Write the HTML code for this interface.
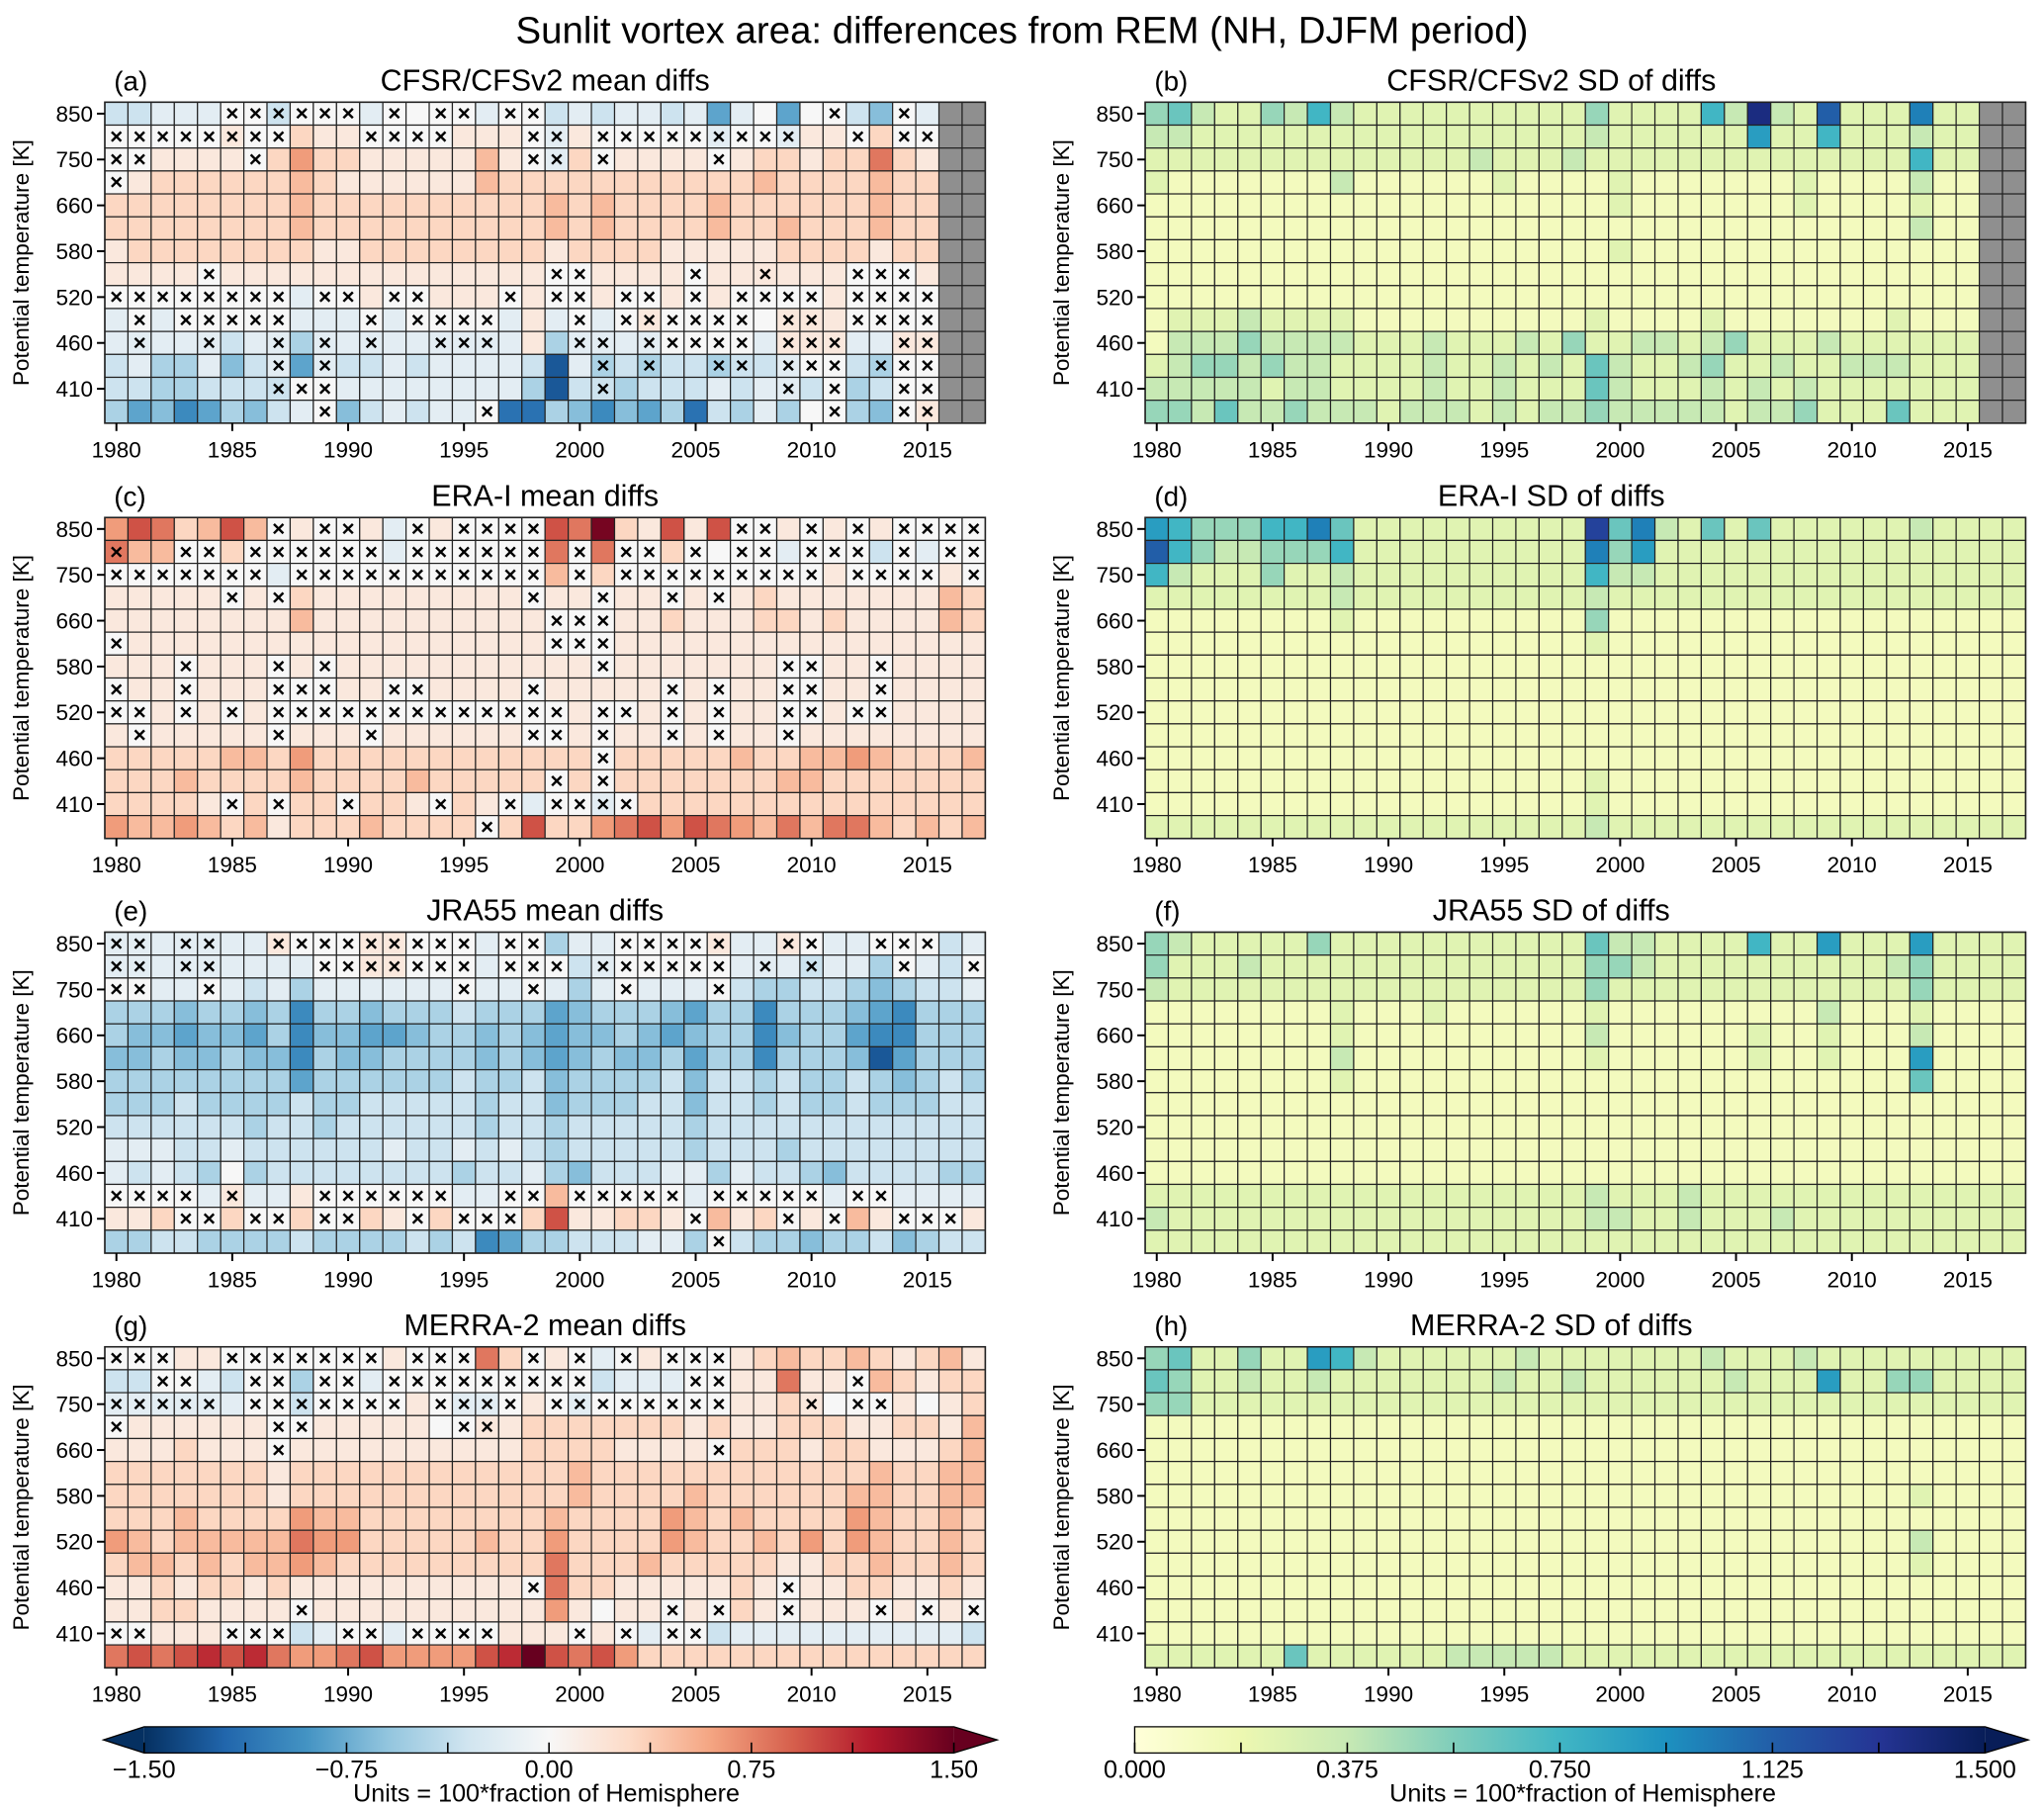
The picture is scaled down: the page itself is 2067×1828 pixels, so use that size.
<!DOCTYPE html>
<html><head><meta charset="utf-8"><title>Sunlit vortex area differences</title>
<style>
html,body{margin:0;padding:0;background:#fff;}
svg{display:block;font-family:"Liberation Sans",Arial,sans-serif;}
</style></head>
<body>
<svg id="fig" xmlns="http://www.w3.org/2000/svg" width="2067" height="1828" viewBox="0 0 1560 1380" preserveAspectRatio="none">
<defs>
<linearGradient id="gRdBu" x1="0" x2="1" y1="0" y2="0">
<stop offset="0" stop-color="#053061"/><stop offset="0.1" stop-color="#2166ac"/><stop offset="0.2" stop-color="#4393c3"/><stop offset="0.3" stop-color="#92c5de"/><stop offset="0.4" stop-color="#d1e5f0"/><stop offset="0.5" stop-color="#f7f7f7"/><stop offset="0.6" stop-color="#fddbc7"/><stop offset="0.7" stop-color="#f4a582"/><stop offset="0.8" stop-color="#d6604d"/><stop offset="0.9" stop-color="#b2182b"/><stop offset="1" stop-color="#67001f"/>
</linearGradient>
<linearGradient id="gYlGnBu" x1="0" x2="1" y1="0" y2="0">
<stop offset="0" stop-color="#ffffd9"/><stop offset="0.125" stop-color="#edf8b1"/><stop offset="0.25" stop-color="#c7e9b4"/><stop offset="0.375" stop-color="#7fcdbb"/><stop offset="0.5" stop-color="#41b6c4"/><stop offset="0.625" stop-color="#1d91c0"/><stop offset="0.75" stop-color="#225ea8"/><stop offset="0.875" stop-color="#253494"/><stop offset="1" stop-color="#081d58"/>
</linearGradient>
</defs>
<text x="780" y="33" text-anchor="middle" font-size="29">Sunlit vortex area: differences from REM (NH, DJFM period)</text>
<g id="plots"></g>
<g>
<rect x="110" y="1318" width="618" height="20" fill="url(#gRdBu)"/>
<polygon points="110,1318 79,1328 110,1338" fill="#053061"/>
<polygon points="728,1318 761,1328 728,1338" fill="#67001f"/>
<polygon points="79,1328 110,1318 728,1318 761,1328 728,1338 110,1338" fill="none" stroke="#000" stroke-width="1"/>
<g id="cbL"></g>
<text x="417" y="1375" text-anchor="middle" font-size="19">Units = 100*fraction of Hemisphere</text>
</g>
<g>
<rect x="866" y="1318" width="649" height="20" fill="url(#gYlGnBu)"/>
<polygon points="1515,1318 1548,1328 1515,1338" fill="#081d58"/>
<polygon points="866,1318 1515,1318 1548,1328 1515,1338 866,1338" fill="none" stroke="#000" stroke-width="1"/>
<g id="cbR"></g>
<text x="1208" y="1375" text-anchor="middle" font-size="19">Units = 100*fraction of Hemisphere</text>
</g>
</svg>
<script>
// ---------- data ----------
const years = [];
for (let y = 1980; y <= 2017; y++) years.push(y);
const levels = ['850','800','750','700','660','620','580','550','520','490','460','435','410','390'];
const yearTicks = [1980,1985,1990,1995,2000,2005,2010,2015];
const levelTicks = ['850','750','660','580','520','460','410'];
const meanTicks = [-1.5,-0.75,0,0.75,1.5];
const meanTickLabels = ['\u22121.50','\u22120.75','0.00','0.75','1.50'];
const sdTicks = [0,0.375,0.75,1.125,1.5];
const sdTickLabels = ['0.000','0.375','0.750','1.125','1.500'];
// mean diffs: letter offset from 'M' (one step = 0.16); Z = missing
const cfsrMean = [
"KKLLLMMKMMMLMMMMLMMKLKLLKLHLMHMMKIMLZZ",
"MMMMMNMMONNMMMMNNNMLNMMMMMLMMLNNMOMMZZ",
"MMNNNNMOQOONNNNNPNMLOMNNNNMNOONOORONZZ",
"MNOOOOOOPONNNNNNPOOOOOOOOOOOPOOOOPOOZZ",
"OOOOOOOOPOOOOOOOOOOPOPOOOOPOOOOOOPOOZZ",
"OOOOOOOOPOOOOOOOOOOPOPOOOOPOOPOOOPOOZZ",
"NOOOOOOOONNOOOOOOOONOOOONNNNNOOOONOOZZ",
"NNNNMNNNNNNNNNNNNNNMMNNNNMNNNNNNMMMNZZ",
"MMMMMMMMLMMNMMNNNMNMMNMMNMNMMMMNMMMMZZ",
"LMLMMMMMLLLMLMMMMLNLMLMNMMMMMNNNMMMMZZ",
"LLLLLKLLJLLLLLLLLLNJLLLLMMMMLNNNLLNNZZ",
"KLJJLIKLHLKKLKLLLLKELJKJKKJKKLMMKJMMZZ",
"KKJJKKKKMMLLLLLLLLJEKKJKKKLKLLKMJKMMZZ",
"JHIGHJIKLMIKLKLLMFFJIGIHJFKJLJMMJIMNZZ"];
const cfsrSig = [
".....xxxxxx.x.xx.xx............x..x...",
"xxxxxxxx...xxxx...xx.xxxxxxxxx..x.xx..",
"xx....x...........xx.x....x...........",
"x.....................................",
"......................................",
"......................................",
"......................................",
"....x..............xx....x..x...xxx...",
"xxxxxxxx.xx.xx...x.xx.xx.x.xxxx.xxxx..",
".x.xxxxx...x.xxxx...x.xxxxxx.xx.xxxx..",
".x..x..x.x.x..xxx...xx.xxxxx.xxx..xx..",
".......x.x...........x.x..xx.xxx.xxx..",
".......xxx...........x.......x.x..xx..",
".........x......x..............x..xx.."];
const eraMean = [
"QSROPSPMNMMNLMNMMMMSRVONSNSMMNMNMNMMMM",
"RPPMMOMMMMMMLMMMMMMRMRMMOMMMMLMMMKMLMM",
"MMMMMMMLMMMMMMMMMMMPMOMMMMMMMMMNMMMMNM",
"NNNNNMNMONNNNNNNNNMNNMNNMNMNONNNNNNNPO",
"NNNNNNNNPNNNNNNNNNNMMMNNONNNOONONNNNPO",
"MNNNNNNNNNNNNNNNNNNMMMNNNNNNNNNNNNNNNN",
"NNNMNNNMNMNNNNNNNNNNNMNNNNNNNMMNNMNNNN",
"MNNMNNNMMMNNMMNNNNMNNNNNMNMNNMMNNMNNNN",
"MMNMNMNMMMMMMMMMMMMMNMMNMNMNNMMNMMNNNN",
"NMNNNNNMNNNMNNNNNNMMNMNNMNMNNMNNNNNNNN",
"OOOOOPPOQOOOOOOOOOOOOMOOOOOPOOPPQPOOOP",
"OOOPOOOOPOOOOPOOOOOMOMOOOOOOOPPOOOOOOO",
"OOOONMOMOOMOONMONMLMMLMOOOOOOOOOOOOOOO",
"QPPQPOPNOOOPOOOOMOSOOQRSQSRQPRPRRPOPOP"];
const eraSig = [
".......x.xx..x.xxxx........xx.x.x.xxxx",
"x..xx.xxxxxx.xxxxxx.x.xx.x.xx.xxx.x.xx",
"xxxxxxx.xxxxxxxxxxx.x.xxxxxxxxx.xxxx.x",
".....x.x..........x..x..x.x...........",
"...................xxx................",
"x..................xxx................",
"...x...x.x...........x.......xx..x....",
"x..x...xxx..xx....x.....x.x..xx..x....",
"xx.x.x.xxxxxxxxxxxxx.xx.x.x..xx.xx....",
".x.....x...x......xx.x..x.x..x........",
".....................x................",
"...................x.x................",
".....x.x..x...x..x.xxxx...............",
"................x....................."];
const jraMean = [
"LLLLLLLNMMMNNMMMLMMJLLMMMMNLLNMLLMMMKL",
"LLLLLLLLLMMNNMMMLMMMKLMMMMMLLLKLLJMLKM",
"MMLLMLKLJLLLLLLMLLMLJLMLLLMKJJKKJIJKKL",
"JJJIJJIJGJJIJJJKJJJHIJJJIHJJGJJJIHGJJJ",
"JIIHIIHJGIIHHIJJIJIHIIJIHIJJGIJJHGGJJJ",
"IIJIIJIIGJIIJJJJIJIHIJIIJHJJGJJJIEHJJJ",
"JJJJJJJJHJJJJJJKJJKIJJJJKIKKJKJJKJIJKJ",
"JJJKJJJJKJJKKKKKJKKIJJJKKIKKJKJJKJJJKK",
"KKKKKKJKKJKKKKKKJKKJKKKKKJKKKKKKKKKKKK",
"LLLKKLKKKKKKLKKLKLKJKKKKKJKKKJKKKKKKKK",
"LKLKJMJKKKKKKKKJKKLJIKKKLLJLKKJIKKKKJJ",
"MMMMLNLLNMMMMMMLLMMPMMMMMLMMMMMLMMLLLL",
"NNOMMOMMOMMONMOMMMOSNNOONMPNOMNMPNMMMN",
"JJKKJJJJKJJJJKJKGHJJKKKLLJMKJJIJJKIJKK"];
const jraSig = [
"xx.xx..xxxxxxxxx.xx...xxxxx..xx..xxx..",
"xx.xx....xxxxxxx.xxx.xxxxxx.x.x...x..x",
"xx..x..........x..x...x...x...........",
"......................................",
"......................................",
"......................................",
"......................................",
"......................................",
"......................................",
"......................................",
"......................................",
"xxxx.x...xxxxxx..xx.xxxxx.xxxxx.xx....",
"...xx.xx.xx..x.xxx.......x...x.x..xxx.",
"..........................x..........."];
const merraMean = [
"MMMNNMMMMMMMNMMMROMNMLMNMMMNOPOOPONOPN",
"KKMMLKMMJMMLMMMMMMMMMKLLLMMNNRNNMPONOO",
"LLLLLLMMKMMMMNMLLMNMLMMMMMMNNONMMMNMNO",
"MNNNNNNMMNNNNNMMNNOOOOOOONONNOOONNOONP",
"NNNONNNMNNNNNNNNNNOOOONNNNMOOONOONNNOP",
"OOOOOOONOOOOOOOOOOOOPOOOOOOOOOOOOPOOPP",
"OOOOOOONOOOOOOOOOOOOPOOOOPOOOOOOPPOOPP",
"OOOPOOOOQPPOOOOOOOOPOOOOQPOPOOOOQPOOPO",
"QPOPPPPPRQQOOOOOPOOQOOOOQPOOPOQOQPOOPO",
"OPPOPOPPQPOOOOOOOOOROOOPOOOOONNOOPOOPO",
"NNONOONONNNNNNNNNNMROONNNNNONMNNOONNON",
"NNOONNNNMNNNNNNNNNNQNMNNMNMONMNNNMNMNM",
"MMNNNMMMKLMMLMMMMNNNMNMLMMKLLLLLLLLLLK",
"RSRSTSTRQQRSQQQQSTYSRSQOOOOOOOOOOOOOOO"];
const merraSig = [
"xxx..xxxxxxx.xxx..x.x.x.xxx...........",
"..xx..xx.xx.xxxxxxxxx....xx.....x.....",
"xxxxx.xxxxxxx.xxxx.xxxxxxxx...x.xx....",
"x......xx......xx.....................",
".......x..................x...........",
"......................................",
"......................................",
"......................................",
"......................................",
"......................................",
"..................x..........x........",
"........x...............x.x..x...x.x.x",
"xx...xxx..xx.xxxx...x.x.xx............",
"......................................"];
// SD of diffs: index into '0123456789abc' (step 0.125); Z = missing
const cfsrSD = [
"4532243632"+"2222222224"+"222263b329"+"222822"+"ZZ",
"3322222222"+"2222222223"+"2222227226"+"222322"+"ZZ",
"2222222222"+"2222322232"+"2222222222"+"222622"+"ZZ",
"2111111131"+"1111121111"+"2111111121"+"111311"+"ZZ",
"1111111111"+"1111111111"+"2111111121"+"111211"+"ZZ",
"1111111111"+"1111111111"+"1111111111"+"111311"+"ZZ",
"1111111111"+"1111111111"+"2111111111"+"111111"+"ZZ",
"1111111111"+"1111111111"+"1111111111"+"111111"+"ZZ",
"1111111111"+"1111111111"+"1111111111"+"111111"+"ZZ",
"1222322221"+"1111111112"+"1111211111"+"112111"+"ZZ",
"1333433332"+"2232223242"+"2332342223"+"222222"+"ZZ",
"2344343322"+"2232232325"+"3223422322"+"333222"+"ZZ",
"3333323322"+"2232232225"+"3222323232"+"222222"+"ZZ",
"4435334333"+"2333232334"+"3333323342"+"225222"+"ZZ"];
const eraSD = [
"7644466852"+"222222222a"+"5832525222"+"22232222",
"9643344462"+"2222222228"+"4722222222"+"22222222",
"6322242232"+"2222222226"+"3322222222"+"22222222",
"2222222232"+"2222222223"+"2222222222"+"22222222",
"1111111121"+"1111111114"+"1111111111"+"11111111",
"1111111111"+"1111111112"+"1111111111"+"11111111",
"1111111111"+"1111111111"+"1111111111"+"11111111",
"1111111111"+"1111111111"+"1111111111"+"11111111",
"1111111111"+"1111111111"+"1111111111"+"11111111",
"1111111111"+"1111111111"+"1111111111"+"11111111",
"1111111111"+"1111111111"+"1111111111"+"11111111",
"1111111111"+"1111111112"+"1111111111"+"11111111",
"1111111111"+"1111111112"+"1111111111"+"11111111",
"2222222222"+"2222222223"+"2222222222"+"22222222"];
const jraSD = [
"4322222422"+"2222222225"+"3322226227"+"22272222",
"4222322222"+"2222222224"+"4322222222"+"22342222",
"3222222222"+"2222222224"+"2222222222"+"22242222",
"1111111121"+"1121111112"+"1111111113"+"11121111",
"1111111121"+"1111111113"+"1111112112"+"11131111",
"1111111131"+"1111111112"+"1111112112"+"11171111",
"1111111121"+"1111111111"+"1111111111"+"11151111",
"1111111111"+"1111111111"+"1111111111"+"11111111",
"1111111111"+"1111111111"+"1111111111"+"11111111",
"1111111111"+"1111111111"+"1111111111"+"11111111",
"1111111111"+"1111111111"+"1111111111"+"11111111",
"2222222222"+"2222222223"+"2223222222"+"22222222",
"3222222222"+"2222222223"+"3223222322"+"22222222",
"2222222222"+"2222222222"+"2222222222"+"22222222"];
const merraSD = [
"4522422763"+"2222223222"+"2222322232"+"22222222",
"5422322322"+"2222232232"+"2222232227"+"22442222",
"4422222222"+"2222222222"+"2222222222"+"22222222",
"1111111111"+"1111111111"+"1111111111"+"11111111",
"1111111111"+"1111111111"+"1111111111"+"11111111",
"1111111111"+"1111111111"+"1111111111"+"11111111",
"1111111111"+"1111111111"+"1111111111"+"11121111",
"1111111111"+"1111111111"+"1111111111"+"11111111",
"1111111111"+"1111111111"+"1111111111"+"11131111",
"1111111111"+"1111111111"+"1111111111"+"11121111",
"1111111111"+"1111111111"+"1111111111"+"11111111",
"1111111111"+"1111111111"+"1111111111"+"11111111",
"1111111111"+"1111111111"+"1111111111"+"11111111",
"2222225222"+"2223333322"+"2222222222"+"22222222"];

// ---------- helpers ----------
const NS = 'http://www.w3.org/2000/svg';
function el(tag, attrs, parent) {
  const e = document.createElementNS(NS, tag);
  for (const k in attrs) e.setAttribute(k, attrs[k]);
  parent.appendChild(e);
  return e;
}
function hex(h){return [parseInt(h.substr(1,2),16),parseInt(h.substr(3,2),16),parseInt(h.substr(5,2),16)];}
const rdbu = ['#053061','#2166ac','#4393c3','#92c5de','#d1e5f0','#f7f7f7','#fddbc7','#f4a582','#d6604d','#b2182b','#67001f'].map(hex);
const ylgnbu = ['#ffffd9','#edf8b1','#c7e9b4','#7fcdbb','#41b6c4','#1d91c0','#225ea8','#253494','#081d58'].map(hex);
function cmap(stops, t) {
  t = Math.max(0, Math.min(1, t));
  const p = t * (stops.length - 1);
  const i = Math.min(Math.floor(p), stops.length - 2);
  const f = p - i;
  const c = [0,1,2].map(k => Math.round(stops[i][k] + (stops[i+1][k] - stops[i][k]) * f));
  return 'rgb(' + c.join(',') + ')';
}
function meanVal(ch){ return ch === 'Z' ? null : (ch.charCodeAt(0) - 77) * 0.16; }
function sdVal(ch){ return ch === 'Z' ? null : '0123456789abc'.indexOf(ch) * 0.125; }

const plots = document.getElementById('plots');
const PW = 672, PH = 245;
const panels = [
  {id:'a', title:'CFSR/CFSv2 mean diffs', x0:80, y0:78, rows:cfsrMean, sig:cfsrSig, kind:'mean'},
  {id:'b', title:'CFSR/CFSv2 SD of diffs', x0:874, y0:78, rows:cfsrSD, kind:'sd'},
  {id:'c', title:'ERA-I mean diffs', x0:80, y0:395, rows:eraMean, sig:eraSig, kind:'mean'},
  {id:'d', title:'ERA-I SD of diffs', x0:874, y0:395, rows:eraSD, kind:'sd'},
  {id:'e', title:'JRA55 mean diffs', x0:80, y0:711.5, rows:jraMean, sig:jraSig, kind:'mean'},
  {id:'f', title:'JRA55 SD of diffs', x0:874, y0:711.5, rows:jraSD, kind:'sd'},
  {id:'g', title:'MERRA-2 mean diffs', x0:80, y0:1028, rows:merraMean, sig:merraSig, kind:'mean'},
  {id:'h', title:'MERRA-2 SD of diffs', x0:874, y0:1028, rows:merraSD, kind:'sd'}
];

panels.forEach(p => {
  const cw = PW / years.length, rh = PH / levels.length;
  const xs = i => p.x0 + i * cw;
  const ys = r => p.y0 + r * rh;
  const g = el('g', {}, plots);
  
  
  for (let r = 0; r < levels.length; r++) {
    const row = p.rows[r];
    for (let i = 0; i < years.length; i++) {
      const ch = row[i] || row[row.length - 1];
      const v = p.kind === 'mean' ? meanVal(ch) : sdVal(ch);
      let fill = '#8f8f8f';
      if (v !== null) fill = p.kind === 'mean' ? cmap(rdbu, (v + 1.5) / 3) : cmap(ylgnbu, v / 1.5);
      const c = el('rect', {x: xs(i), y: ys(r), width: cw, height: rh, fill: fill, stroke: '#222', 'stroke-width': 0.9}, g);
      
      
      if (p.sig && p.sig[r][i] === 'x') {
        const t = el('text', {x: xs(i) + cw / 2, y: ys(r) + rh / 2 + 5.5, 'text-anchor': 'middle', 'font-size': 17, 'font-weight': 'bold', fill: '#000'}, g);
        t.textContent = '\u00d7';
        
        
      }
    }
  }
  const fr = el('rect', {x: p.x0, y: p.y0, width: PW, height: PH, fill: 'none', stroke: '#222', 'stroke-width': 1.2}, g);
  
  
  levelTicks.forEach(lv => {
    const r = levels.indexOf(lv);
    const yy = ys(r) + rh / 2;
    const tk = el('line', {x1: p.x0 - 6, x2: p.x0, y1: yy, y2: yy, stroke: '#000', 'stroke-width': 1.5}, g);
    
    
    const tl = el('text', {x: p.x0 - 9, y: yy + 6, 'text-anchor': 'end', 'font-size': 17}, g);
    tl.textContent = lv;
    
    
  });
  yearTicks.forEach(yr => {
    const i = years.indexOf(yr);
    const xx = xs(i) + cw / 2;
    const tk = el('line', {x1: xx, x2: xx, y1: p.y0 + PH, y2: p.y0 + PH + 6, stroke: '#000', 'stroke-width': 1.5}, g);
    
    
    const tl = el('text', {x: xx, y: p.y0 + PH + 26, 'text-anchor': 'middle', 'font-size': 17}, g);
    tl.textContent = yr;
    
    
  });
  const ax = p.x0 - 58, ay = p.y0 + PH / 2;
  const yt = el('text', {x: ax, y: ay, 'text-anchor': 'middle', 'font-size': 17, transform: 'rotate(-90 ' + ax + ' ' + ay + ')'}, g);
  yt.textContent = 'Potential temperature [K]';
  
  
  const lt = el('text', {x: p.x0 + 7, y: p.y0 - 9, 'font-size': 21}, g);
  lt.textContent = '(' + p.id + ')';
  
  
  const tcx = p.kind === 'mean' ? p.x0 + PW / 2 : 1184;
  const tt = el('text', {x: tcx, y: p.y0 - 9, 'text-anchor': 'middle', 'font-size': 23}, g);
  tt.textContent = p.title;
  
  
});

function cbar(gid, x0, x1, vmin, vmax, ticks, labels, step) {
  const g = document.getElementById(gid);
  const xs = v => x0 + (v - vmin) / (vmax - vmin) * (x1 - x0);
  for (let v = vmin; v <= vmax + 1e-9; v += step) {
    const t = el('line', {x1: xs(v), x2: xs(v), y1: 1338, y2: 1330, stroke: '#000', 'stroke-width': 1.2}, g);
    
    
  }
  ticks.forEach((v, k) => {
    const t = el('text', {x: xs(v), y: 1357, 'text-anchor': 'middle', 'font-size': 19}, g);
    t.textContent = labels[k];
    
    
  });
}
cbar('cbL', 110, 728, -1.5, 1.5, meanTicks, meanTickLabels, 0.375);
cbar('cbR', 866, 1515, 0, 1.5, sdTicks, sdTickLabels, 0.1875);
</script>
</body></html>
